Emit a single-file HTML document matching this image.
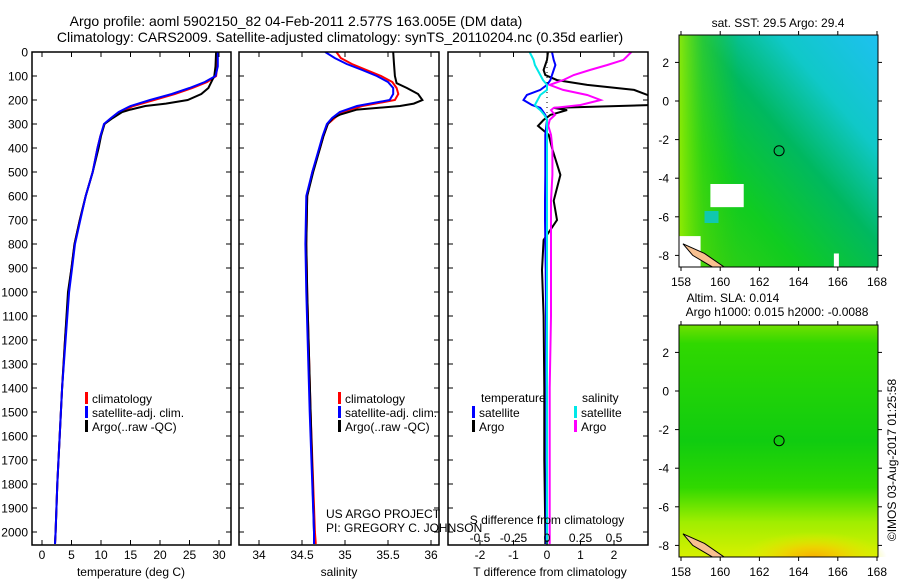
<!DOCTYPE html>
<html><head><meta charset="utf-8">
<style>
html,body{margin:0;padding:0;background:#fff;}
svg{display:block;font-family:"Liberation Sans",sans-serif;}
text{fill:#000;}
</style></head>
<body>
<svg id="chart" width="900" height="580" viewBox="0 0 900 580" xmlns="http://www.w3.org/2000/svg">
<defs>
  <linearGradient id="sstA" x1="1" y1="0" x2="0" y2="1">
    <stop offset="0" stop-color="#1ec0f0"/>
    <stop offset="0.25" stop-color="#10c8c8"/>
    <stop offset="0.45" stop-color="#00b860"/>
    <stop offset="0.7" stop-color="#10cc20"/>
    <stop offset="1" stop-color="#40d010"/>
  </linearGradient>
  <linearGradient id="sstB" x1="0" y1="0" x2="1" y2="0">
    <stop offset="0" stop-color="#a0f000" stop-opacity="0.85"/>
    <stop offset="0.12" stop-color="#60e000" stop-opacity="0.4"/>
    <stop offset="0.3" stop-color="#30d000" stop-opacity="0"/>
  </linearGradient>
  <linearGradient id="slaA" x1="0" y1="0" x2="0" y2="1">
    <stop offset="0" stop-color="#70e000"/>
    <stop offset="0.08" stop-color="#30d800"/>
    <stop offset="0.5" stop-color="#10cc10"/>
    <stop offset="0.7" stop-color="#30d800"/>
    <stop offset="0.85" stop-color="#a0ee00"/>
    <stop offset="1" stop-color="#d8f000"/>
  </linearGradient>
  <radialGradient id="slaB" cx="0.5" cy="1" r="0.5" fx="0.5" fy="1">
    <stop offset="0" stop-color="#f8b000"/>
    <stop offset="0.4" stop-color="#f0d000" stop-opacity="0.9"/>
    <stop offset="1" stop-color="#e0f000" stop-opacity="0"/>
  </radialGradient>
  <clipPath id="c1"><rect x="32" y="52" width="199" height="493"/></clipPath>
  <clipPath id="c2"><rect x="239" y="52" width="200" height="493"/></clipPath>
  <clipPath id="c3"><rect x="448" y="52" width="200" height="493"/></clipPath>
  <clipPath id="cm1"><rect x="679" y="35" width="199" height="232"/></clipPath>
  <clipPath id="cm2"><rect x="679" y="325" width="199" height="232"/></clipPath>
</defs>
<text x="296" y="26" font-size="14" text-anchor="middle">Argo profile: aoml 5902150_82 04-Feb-2011 2.577S 163.005E (DM data)</text>
<text x="340" y="42" font-size="14" text-anchor="middle">Climatology: CARS2009. Satellite-adjusted climatology: synTS_20110204.nc (0.35d earlier)</text>
<g id="g1"></g>
<g id="g2"></g>
<g id="g3"></g>
<g id="maps"></g>
<text transform="translate(896,460) rotate(-90)" font-size="12" text-anchor="middle">©IMOS 03-Aug-2017 01:25:58</text>
</svg>
<script>
// ---------- data ----------
const depthTicks = [0,100,200,300,400,500,600,700,800,900,1000,1100,1200,1300,1400,1500,1600,1700,1800,1900,2000];
const tempTicks = [0,5,10,15,20,25,30];
const salTicks = [34,34.5,35,35.5,36];
const salTickLabels = ["34","34.5","35","35.5","36"];
const tdiffTicks = [-2,-1,0,1,2];
const sdiffTicks = [-0.5,-0.25,0,0.25,0.5];

const tArgoDepth = [0,60,100,150,175,200,215,225,240,250,275,300,350,400,500,600,700,800,900,1000,1200,1400,1600,1800,2000,2050];
const tArgo      = [29.5,29.4,29.2,28.2,27,24.7,21,17.5,15,13.6,12,10.6,10,9.6,8.6,7.4,6.4,5.5,5.0,4.4,3.9,3.4,3.0,2.6,2.3,2.2];
const tClimDepth = [0,60,100,125,150,175,200,225,250,275,300,350,400,500,600,700,800,900,1000,1200,1400,1600,1800,2000,2050];
const tClim      = [29.7,29.7,29.5,28,25.5,22.5,19,15.5,13.2,11.8,10.6,9.9,9.4,8.6,7.4,6.4,5.5,5.0,4.5,3.9,3.4,3.0,2.6,2.3,2.2];
const tSat       = [29.8,29.8,29.4,27.6,25,22,18.3,15,13,11.7,10.5,9.9,9.4,8.6,7.4,6.5,5.6,5.1,4.6,4.0,3.4,3.0,2.6,2.3,2.2];

const sArgoDepth = [0,50,100,130,150,175,200,215,225,240,260,275,300,350,400,500,600,800,1000,1500,2000,2050];
const sArgo      = [35.56,35.57,35.58,35.6,35.72,35.85,35.9,35.8,35.64,35.14,34.95,34.86,34.8,34.75,34.71,34.63,34.56,34.55,34.56,34.6,34.64,34.64];
const sClimDepth = [0,25,50,75,100,125,150,175,200,225,250,275,300,350,400,500,600,800,1000,1500,2000,2050];
const sClim      = [34.9,34.95,35.08,35.25,35.42,35.55,35.6,35.62,35.58,35.2,34.97,34.88,34.8,34.75,34.71,34.62,34.56,34.55,34.56,34.6,34.65,34.66];
const sSat       = [34.77,34.88,35.02,35.2,35.37,35.5,35.56,35.56,35.52,35.14,34.94,34.85,34.79,34.74,34.7,34.62,34.55,34.54,34.55,34.59,34.64,34.64];

const dDepth   = [0,33,54,75,96,117,137,158,179,200,221,233,242,262,283,308,345,400,512,620,700,783,908,1100,1400,1700,2000,2050];
const dTArgo   = [0.03,0,-0.05,-0.1,-0.05,0.3,1.2,2.6,3.0,3.2,3.2,0.2,0.6,0.1,-0.1,-0.27,0.05,0.15,0.4,0.2,0.3,-0.1,-0.15,-0.1,-0.08,-0.08,-0.05,-0.05];
const dTSat    = [0.15,0.2,0.25,0.2,0.15,0.1,0.0,-0.2,-0.6,-0.7,-0.45,-0.2,-0.15,-0.05,0,-0.02,-0.05,-0.05,-0.05,-0.06,-0.06,-0.05,-0.04,-0.03,-0.02,-0.02,-0.02,-0.02];
const dSArgo   = [0.63,0.57,0.45,0.32,0.2,0.12,0.02,0.12,0.3,0.4,0.25,0.05,0.03,0.06,0.02,0.01,0.03,0.04,0.04,0.03,0.03,0.03,0.03,0.03,0.02,0.02,0.02,0.02];
const dSSat    = [-0.13,-0.1,-0.09,-0.07,-0.05,-0.03,0.0,0.0,-0.05,-0.07,-0.09,-0.07,-0.05,-0.02,0,0,0,0,0,0,0,0,0,0,0,0,0,0];

const mapLonTicks = [158,160,162,164,166,168];
const mapLatTicks = [2,0,-2,-4,-6,-8];
const floatLon = 163.005, floatLat = -2.577;

// ---------- helpers ----------
const NS = "http://www.w3.org/2000/svg";
function mk(tag, attrs, parent){const e=document.createElementNS(NS,tag);for(const k in attrs)e.setAttribute(k,attrs[k]);if(parent)parent.appendChild(e);return e;}
const Y0 = 52, PPD = 0.24, YB = 545;
const yD = d => Y0 + d*PPD;
const xT = v => 42 + v*5.9;
const xS = v => 259 + (v-34)*86;
const xDT = v => 547 + v*33.5;
const xDS = v => 547 + v*134;

function drawLine(g, depths, vals, xf, color, w, clip, name){
  const pts = depths.map((d,i)=> xf(vals[i]).toFixed(1)+","+yD(d).toFixed(1)).join(" ");
  const p = mk("polyline",{points:pts,fill:"none",stroke:color,"stroke-width":w,"clip-path":"url(#"+clip+")"},g);
  
  
}
function frame(g, x, w, name){
  const r = mk("rect",{x:x,y:Y0,width:w,height:YB-Y0,fill:"none",stroke:"#000","stroke-width":1.5},g);
  
  
}
function depthTicksOn(g, x, w){
  depthTicks.forEach(d=>{
    const y=yD(d);
    mk("line",{x1:x,y1:y,x2:x+5,y2:y,stroke:"#000"},g);
    mk("line",{x1:x+w-5,y1:y,x2:x+w,y2:y,stroke:"#000"},g);
  });
}
function xTicks(g, ticks, labels, xf, yLab, top){
  ticks.forEach((v,i)=>{
    const x=xf(v);
    mk("line",{x1:x,y1:YB,x2:x,y2:YB-5,stroke:"#000"},g);
    if(top) mk("line",{x1:x,y1:Y0,x2:x,y2:Y0+5,stroke:"#000"},g);
    const t=mk("text",{x:x,y:yLab,"font-size":12,"text-anchor":"middle"},g);
    t.textContent=labels[i];
    
    
  });
}
function legend(g, x, y, color, label){
  mk("rect",{x:x,y:y-10,width:3,height:12,fill:color},g);
  const t=mk("text",{x:x+7,y:y+1,"font-size":12},g);
  t.textContent=label;
  
  
}
function txt(g,x,y,s,size,anchor,name){
  const t=mk("text",{x:x,y:y,"font-size":size,"text-anchor":anchor||"start"},g);
  t.textContent=s;
  
  
  return t;
}

// ---------- panel 1 ----------
const g1=document.getElementById("g1");
depthTicks.forEach(d=>{
  txt(g1,28,yD(d)+4.5,String(d),12,"end","y-tick-label");
});
drawLine(g1,tClimDepth,tClim,xT,"#ff0000",2,"c1","temp-climatology-line");
drawLine(g1,tArgoDepth,tArgo,xT,"#000",2,"c1","temp-argo-line");
drawLine(g1,tClimDepth,tSat,xT,"#0000ff",2,"c1","temp-satellite-line");
frame(g1,32,199,"temperature-frame");
depthTicksOn(g1,32,199);
xTicks(g1,tempTicks,tempTicks.map(String),xT,559,true);
txt(g1,131,576,"temperature (deg C)",12,"middle","x-axis-title-temperature");
legend(g1,85,402,"#ff0000","climatology");
legend(g1,85,416,"#0000ff","satellite-adj. clim.");
legend(g1,85,430,"#000","Argo(..raw -QC)");

// ---------- panel 2 ----------
const g2=document.getElementById("g2");
drawLine(g2,sClimDepth,sClim,xS,"#ff0000",2,"c2","sal-climatology-line");
drawLine(g2,sArgoDepth,sArgo,xS,"#000",2,"c2","sal-argo-line");
drawLine(g2,sClimDepth,sSat,xS,"#0000ff",2,"c2","sal-satellite-line");
frame(g2,239,200,"salinity-frame");
depthTicksOn(g2,239,200);
xTicks(g2,salTicks,salTickLabels,xS,559,true);
txt(g2,339,576,"salinity",12,"middle","x-axis-title-salinity");
legend(g2,338,402,"#ff0000","climatology");
legend(g2,338,416,"#0000ff","satellite-adj. clim.");
legend(g2,338,430,"#000","Argo(..raw -QC)");
txt(g2,326,518,"US ARGO PROJECT",12,"start","project-label");
txt(g2,326,532,"PI: GREGORY C. JOHNSON",12,"start","pi-label");

// ---------- panel 3 ----------
const g3=document.getElementById("g3");
const zl=mk("line",{x1:547,y1:Y0,x2:547,y2:YB,stroke:"#000","stroke-dasharray":"1,4"},g3);


drawLine(g3,dDepth,dTArgo,xDT,"#000",2,"c3","tdiff-argo-line");
drawLine(g3,dDepth,dTSat,xDT,"#0000ff",2,"c3","tdiff-satellite-line");
drawLine(g3,dDepth,dSArgo,xDS,"#ff00ff",2,"c3","sdiff-argo-line");
drawLine(g3,dDepth,dSSat,xDS,"#00e8e8",2,"c3","sdiff-satellite-line");
frame(g3,448,200,"difference-frame");
depthTicksOn(g3,448,200);
xTicks(g3,tdiffTicks,tdiffTicks.map(String),xDT,559,true);
sdiffTicks.forEach(v=>{
  txt(g3,xDS(v),542,String(v),12,"middle","s-tick-label");
});
txt(g3,547,524,"S difference from climatology",12,"middle","s-axis-title");
txt(g3,550,576,"T difference from climatology",12,"middle","t-axis-title");
txt(g3,481,402,"temperature",12,"start","legend-header-temperature");
txt(g3,582,402,"salinity",12,"start","legend-header-salinity");
legend(g3,472,416,"#0000ff","satellite");
legend(g3,472,430,"#000","Argo");
legend(g3,574,416,"#00e8e8","satellite");
legend(g3,574,430,"#ff00ff","Argo");

// ---------- maps ----------
const gm=document.getElementById("maps");
function mapAxes(top, lat0Y, fill, name, extra){
  const left=679, w=199, h=232;
  const lonX = lon => 681 + (lon-158)*19.6;
  const latY = lat => lat0Y - lat*19.3;
  const r=mk("rect",{x:left,y:top,width:w,height:h,fill:fill},gm);
  
  
  extra(lonX,latY);
  const coast=mk("path",{d:"M"+lonX(158.1)+","+latY(-7.4)+" L"+lonX(159.2)+","+latY(-7.9)+" L"+lonX(160.2)+","+latY(-8.6)+" L"+lonX(159.6)+","+latY(-8.6)+" L"+lonX(158.6)+","+latY(-8.0)+" Z",fill:"#f8c090",stroke:"#000","stroke-width":1,"clip-path":"url(#"+(top<100?"cm1":"cm2")+")"},gm);
  
  
  mk("rect",{x:left,y:top,width:w,height:h,fill:"none",stroke:"#000","stroke-width":1},gm);
  mapLonTicks.forEach(l=>{
    const x=lonX(l);
    mk("line",{x1:x,y1:top+h,x2:x,y2:top+h+4,stroke:"#000"},gm);
    mk("line",{x1:x,y1:top,x2:x,y2:top-4,stroke:"#000"},gm);
    txt(gm,x,top+h+19,String(l),12,"middle","map-lon-label");
  });
  mapLatTicks.forEach(l=>{
    const y=latY(l);
    mk("line",{x1:left,y1:y,x2:left-4,y2:y,stroke:"#000"},gm);
    mk("line",{x1:left+w,y1:y,x2:left+w+4,y2:y,stroke:"#000"},gm);
    txt(gm,left-10,y+4.5,String(l),12,"end","map-lat-label");
  });
  const c=mk("circle",{cx:lonX(floatLon),cy:latY(floatLat),r:5,fill:"none",stroke:"#000","stroke-width":1},gm);
  
  
}
mapAxes(35,101,"url(#sstA)","sst-map",(lonX,latY)=>{
  mk("rect",{x:679,y:35,width:199,height:232,fill:"url(#sstB)"},gm);
  mk("rect",{x:lonX(159.5),y:latY(-4.3),width:lonX(161.2)-lonX(159.5),height:latY(-5.5)-latY(-4.3),fill:"#fff"},gm);
  mk("rect",{x:lonX(157.8),y:latY(-7),width:lonX(159.0)-lonX(157.8),height:latY(-8.6)-latY(-7),fill:"#fff"},gm);
  mk("rect",{x:lonX(159.2),y:latY(-5.7),width:14,height:12,fill:"#10c8b0"},gm);
  mk("rect",{x:lonX(165.8),y:latY(-7.9),width:5,height:14,fill:"#fff"},gm);
});
txt(gm,778,27,"sat. SST: 29.5 Argo: 29.4",12,"middle","sst-map-title");
mapAxes(325,391,"url(#slaA)","sla-map",(lonX,latY)=>{
  mk("rect",{x:lonX(161),y:latY(-6),width:lonX(168.5)-lonX(161),height:latY(-8.6)-latY(-6),fill:"url(#slaB)"},gm);
});
txt(gm,733,302,"Altim. SLA: 0.014",12,"middle","sla-map-title-1");
txt(gm,777,316,"Argo h1000: 0.015 h2000: -0.0088",12,"middle","sla-map-title-2");
</script>
</body></html>
